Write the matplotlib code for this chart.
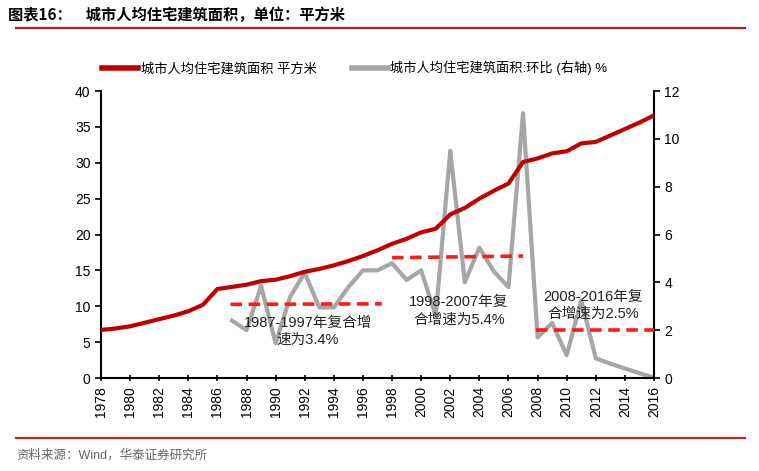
import matplotlib

matplotlib.use("Agg")

import matplotlib.pyplot as plt
from matplotlib.lines import Line2D

plt.rcParams["font.family"] = ["Liberation Sans", "Noto Sans CJK SC", "DejaVu Sans"]

# 城市人均住宅建筑面积 (平方米), 1978-2016
years = list(range(1978, 2017))
area = [6.7, 6.9, 7.2, 7.7, 8.2, 8.7, 9.3, 10.2, 12.4, 12.7,
        13.0, 13.5, 13.7, 14.2, 14.8, 15.2, 15.7, 16.3, 17.0, 17.8,
        18.7, 19.4, 20.3, 20.8, 22.8, 23.7, 25.0, 26.1, 27.1, 30.1,
        30.6, 31.3, 31.6, 32.7, 32.9, 33.8, 34.7, 35.6, 36.6]

# 环比 (%), 1987-2016
growth_years = list(range(1987, 2017))
growth = [2.4, 2.0, 3.85, 1.45, 3.4, 4.4, 2.95, 2.95, 3.8, 4.5,
          4.5, 4.8, 4.1, 4.5, 2.6, 9.5, 4.0, 5.45, 4.45, 3.8,
          11.07, 1.7, 2.3, 0.95, 3.25, 0.82, 0.6, 0.4, 0.2, 0.02]

# 复合增速 reference segments (right axis)
segments = [
    ((1986.9, 1997.3), (3.08, 3.1)),
    ((1998.0, 2007.0), (5.03, 5.1)),
    ((2007.9, 2016.0), (2.0, 2.0)),
]
notes = [
    (1992.2, 1.96, "1987-1997年复合增\n速为3.4%"),
    (2002.6, 2.8, "1998-2007年复\n合增速为5.4%"),
    (2011.8, 3.03, "2008-2016年复\n合增速为2.5%"),
]

RED = "#C00000"
GRAY = "#A6A6A6"
DASH = "#FF1A1A"

fig = plt.figure(figsize=(7.59, 4.71), dpi=100)
ax = fig.add_axes([101 / 759, 1 - 378 / 471, 553 / 759, 287 / 471])
ax2 = ax.twinx()

ax.plot(years, area, color=RED, lw=3.0, solid_capstyle="round", zorder=3)
ax2.plot(growth_years, growth, color=GRAY, lw=3.0, zorder=2)
for (x0, x1), (y0, y1) in segments:
    ax2.plot([x0, x1], [y0, y1], color=DASH, lw=2.6, dashes=(3.2, 1.8), zorder=4)
for x, y, s in notes:
    ax2.text(x, y, s, ha="center", va="center", fontsize=10.5,
             color="#222222", linespacing=1.3, zorder=5)

ax.set_xlim(1978, 2016)
ax.set_ylim(0, 40)
ax2.set_ylim(0, 12)
ax.set_zorder(ax2.get_zorder() + 1)
ax.patch.set_visible(False)

ax.set_xticks(range(1978, 2017, 2))
ax.set_xticklabels([str(y) for y in range(1978, 2017, 2)], rotation=90, fontsize=10)
ax.set_yticks(range(0, 41, 5))
ax2.set_yticks(range(0, 13, 2))
ax.tick_params(axis="y", labelsize=10, length=4, width=1.2, direction="out")
ax2.tick_params(axis="y", labelsize=10, length=4, width=1.2, direction="out")
ax.tick_params(axis="x", length=5, width=1.2, direction="inout")

for a in (ax, ax2):
    a.spines["top"].set_visible(False)
    for side in ("left", "right", "bottom"):
        a.spines[side].set_linewidth(1.5)
ax.spines["right"].set_visible(False)
ax2.spines["left"].set_visible(False)
ax2.spines["bottom"].set_visible(False)

handles = [
    Line2D([], [], color=RED, lw=4),
    Line2D([], [], color=GRAY, lw=4),
]
fig.legend(handles, ["城市人均住宅建筑面积 平方米", "城市人均住宅建筑面积:环比 (右轴) %"],
           loc="center left", bbox_to_anchor=(97 / 759, 1 - 68 / 471), ncol=2,
           frameon=False, fontsize=9.5, handlelength=2.7, handletextpad=0.2,
           columnspacing=2.7, borderaxespad=0)

fig.text(8 / 759, 1 - 15 / 471, "图表16：    城市人均住宅建筑面积，单位：平方米",
         fontsize=11, fontweight="bold", ha="left", va="center",
         family=["Noto Sans CJK SC", "DejaVu Sans"])
fig.add_artist(Line2D([16 / 759, 745 / 759], [1 - 28 / 471] * 2, color="#B22222", lw=1.6))
fig.add_artist(Line2D([16 / 759, 745 / 759], [1 - 438 / 471] * 2, color="#C0281E", lw=1.6))
fig.text(16 / 759, 1 - 455 / 471, "资料来源：Wind，华泰证券研究所", fontsize=9,
         color="#666666", ha="left", va="center")

fig.savefig("out.png", dpi=100)
